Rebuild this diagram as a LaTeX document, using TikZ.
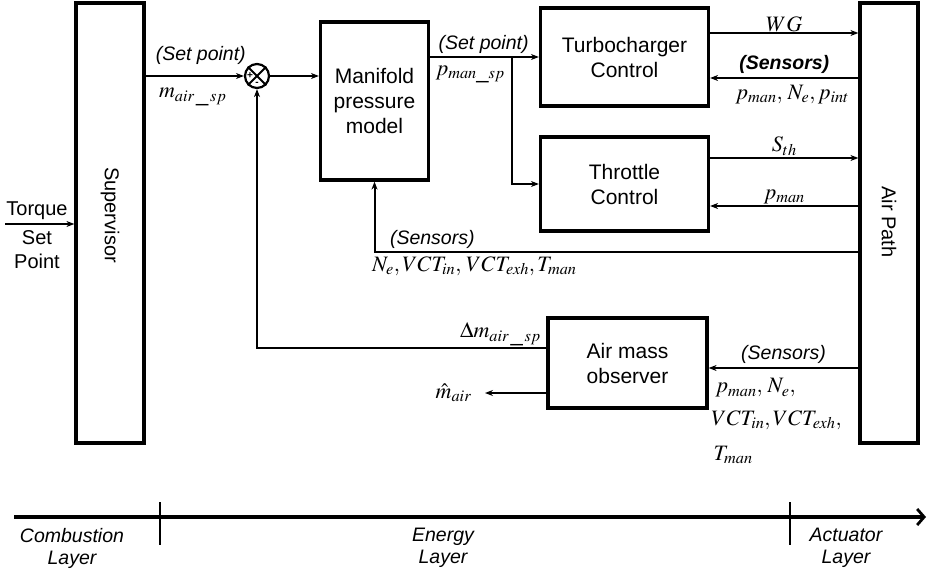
\documentclass[tikz,border=0pt]{standalone}
\usepackage{mathptmx}
\usepackage{fontspec}
\setmainfont{Liberation Sans}
\usetikzlibrary{arrows.meta, positioning}

\begin{document}
\begin{tikzpicture}[x=1pt,y=-1pt,font=\fontsize{20}{23}\selectfont,
  blk/.style={draw,line width=3.2pt,inner sep=0pt,align=center},
  sig/.style={line width=2pt,-{Stealth[length=8pt,width=6pt]}},
  lbl/.style={font=\fontsize{19.5}{22}\selectfont\itshape},
  mth/.style={font=\fontsize{22}{25}\selectfont}]
\useasboundingbox (0,0) rectangle (930,575);
% blocks
\node[blk,minimum width=68,minimum height=440] (sup) at (110,223) {};
\node[rotate=-90] (suplbl) at (110,215) {Supervisor};
\node[blk,minimum width=58,minimum height=440] (ap) at (889,223) {};
\node[rotate=-90] (aplbl) at (889,222) {Air Path};
\node[blk,minimum width=108,minimum height=158,font=\fontsize{21}{25}\selectfont] (man) at (374.5,101) {Manifold\\pressure\\model};
\node[blk,minimum width=168,minimum height=98,font=\fontsize{21}{25}\selectfont] (turbo) at (624.5,57) {Turbocharger\\Control};
\node[blk,minimum width=168,minimum height=94,font=\fontsize{21}{25}\selectfont] (thr) at (624.5,184) {Throttle\\Control};
\node[blk,minimum width=159,minimum height=90,font=\fontsize{21}{25}\selectfont] (obs) at (627.5,363) {Air mass\\observer};
% summing junction
\node[circle,draw,line width=2.2pt,minimum size=24,inner sep=0pt] (sum) at (257,76) {};
\draw[line width=2pt] (sum.north west) -- (sum.south east);
\draw[line width=2pt] (sum.north east) -- (sum.south west);
\node[font=\fontsize{10}{10}\selectfont\bfseries] (plus) at (250,76) {+};
\node[font=\fontsize{10}{10}\selectfont\bfseries] (minus) at (257,84) {-};
% input
\coordinate (tq) at (5,224);
\draw[sig] (tq) -- (tq -| sup.west);
\node (tqlbl) at (37,211) {Torque};
\node[align=center,font=\fontsize{20}{24}\selectfont] (splbl) at (37,250) {Set\\Point};
% set point path
\draw[sig] (sup.east |- sum) -- (sum.west)
  node[lbl,midway,above=7pt,xshift=6pt] {(Set point)}
  node[mth,midway,below=8pt,xshift=-2pt] {$m_{air\,\_\,sp}$};
\draw[sig] (sum.east) -- (sum -| man.west);
\draw[sig] (man.east |- turbo.west) -- (turbo.west);
\node[lbl,above right=0pt and 5pt] (sp2) at (man.east |- turbo.west) {(Set point)};
\node[mth,below right=5pt and 2pt] (pmsp) at (man.east |- turbo.west) {$p_{man\_sp}$};
\coordinate (br) at (512,57);
\draw[sig] (br) |- (thr.west);
% actuators
\draw[sig] (turbo.east |- 0,33) -- (ap.west |- 0,33) node[mth,midway,above=-3pt] {$WG$};
\draw[sig] (ap.west |- 0,78) -- (turbo.east |- 0,78)
  node[midway,above,font=\fontsize{19.5}{22}\selectfont\bfseries\itshape] {(Sensors)}
  node[mth,midway,below=3pt,xshift=8pt] {$p_{man},\, N_e, p_{int}$};
\draw[sig] (thr.east |- 0,158) -- (ap.west |- 0,158) node[mth,midway,above=-2pt] {$S_{th}$};
\draw[sig] (ap.west |- 0,206) -- (thr.east |- 0,206) node[mth,midway,above=-2pt] {$p_{man}$};
% feedback to manifold
\draw[sig] (ap.west |- 0,252) -| (man.south);
\node[lbl,above right=0pt and 12pt] (sens2) at (man.south |- 0,252) {(Sensors)};
\node[mth,below right=1pt and -6pt] (sens2v) at (man.south |- 0,252) {$N_e,VCT_{in},\, VCT_{exh},T_{man}$};
% observer
\draw[sig] (obs.west |- 0,348) -| (sum.south);
\node[mth,above left=-1pt and 2pt] (dm) at (obs.west |- 0,348) {$\Delta m_{air\,\_\,sp}$};
\coordinate (mh) at (485,393);
\draw[sig] (obs.west |- mh) -- (mh);
\node[mth,left=10pt] (mhlbl) at (mh) {$\hat{m}_{air}$};
\draw[sig] (ap.west |- 0,368) -- (obs.east |- 0,368)
  node[lbl,midway,above] {(Sensors)};
\node[mth,anchor=west] (os1) at (712,388) {$p_{man},\, N_e,$};
\node[mth,anchor=west] (os2) at (708,420) {$VCT_{in}, VCT_{exh},$};
\node[mth,anchor=west] (os3) at (710,455) {$T_{man}$};
% layers
\draw[line width=3.4pt,-{Straight Barb[length=7pt,width=16pt,line width=2.8pt]}] (14,517) -- (926,517);
\draw[line width=2.8pt] (160,502) -- (160,545);
\draw[line width=2.8pt] (790,502) -- (790,545);
\node[lbl,align=center] (comb) at (72,548) {Combustion\\Layer};
\node[lbl,align=center] (ener) at (443,548) {Energy\\Layer};
\node[lbl,align=center] (act) at (846,548) {Actuator\\Layer};
\end{tikzpicture}
\end{document}
